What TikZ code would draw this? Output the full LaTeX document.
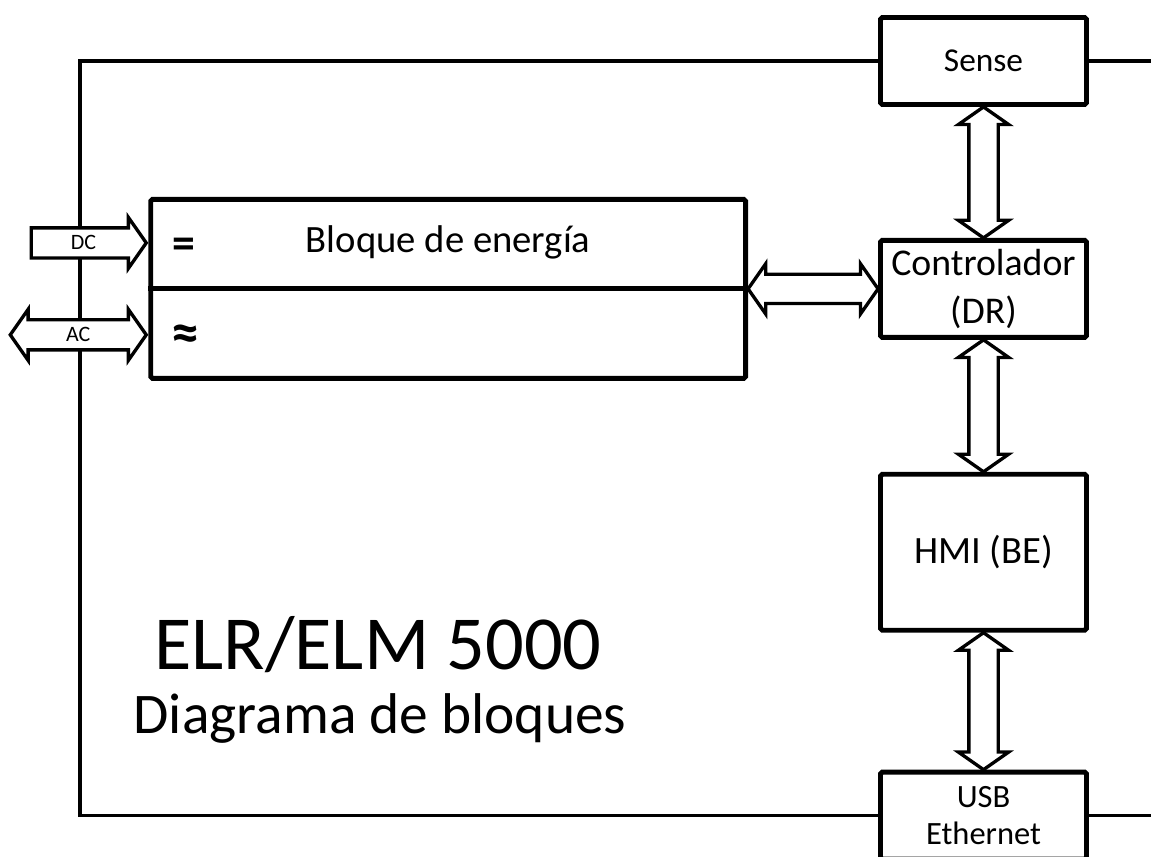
\documentclass[tikz,border=0pt]{standalone}
\usepackage{fontspec}
\setmainfont{Carlito}
\usetikzlibrary{arrows.meta,positioning,calc,shapes.arrows}
\tikzset{
  blockbox/.style={draw, line width=2.8pt, rounded corners=1pt, fill=white,
                   inner sep=0pt, align=center, minimum width=4.12cm},
  bigbox/.style={draw, line width=2.8pt, rounded corners=1pt, fill=white,
                 inner sep=0pt, minimum width=11.9cm, minimum height=3.58cm},
  frameline/.style={line width=2pt},
  fatlink/.style={double arrow, draw, fill=white, line width=1.9pt,
                  inner xsep=0pt, inner ysep=7.4pt,
                  minimum width=0.96cm, double arrow head extend=0.21cm,
                  double arrow tip angle=110},
  fatin/.style={single arrow, draw, fill=white, line width=1.9pt,
                inner xsep=0pt, inner ysep=3.9pt, text height=7.4pt, text depth=0pt,
                minimum width=0.96cm, single arrow head extend=0.21cm,
                single arrow tip angle=110, font=\fontsize{12.5}{13}\selectfont},
  fatlabel/.style={inner ysep=3.9pt, text height=7.4pt, text depth=0pt,
                   font=\fontsize{12.5}{13}\selectfont}}

\begin{document}
\begin{tikzpicture}[x=0.02cm, y=-0.02cm]
  \useasboundingbox (0,0) rectangle (1151,857);
  \clip (0,0) rectangle (1151,857);
  \coordinate (fx) at (80,0);
  \coordinate (rx) at (1151,0);

  % right column
  \node[blockbox, minimum height=1.74cm, font=\fontsize{19}{22}\selectfont] (sense) at (983.5,61) {Sense};
  \node[blockbox, minimum height=1.94cm, below=2.62cm of sense,
        font=\fontsize{21.5}{27}\selectfont] (ctrl) {Controlador\\(DR)};
  \node[blockbox, minimum height=3.12cm, below=2.64cm of ctrl,
        font=\fontsize{22}{26}\selectfont] (hmi) {HMI (BE)};
  \node[blockbox, minimum height=1.74cm, below=2.74cm of hmi,
        font=\fontsize{18.5}{21}\selectfont] (usb) {USB\\Ethernet};

  % power block
  \node[bigbox, left=2.6cm of ctrl] (bloque) {};
  \draw[line width=2.8pt] (bloque.west) -- (bloque.east);
  \node[font=\fontsize{22}{26}\selectfont] (bloquetxt) at ($(bloque.north)!0.5!(bloque.center)$) {Bloque de energía};
  \coordinate (dcin) at ($(bloque.west)!0.5!(bloque.north west)$);
  \coordinate (acin) at ($(bloque.west)!0.5!(bloque.south west)$);
  \node[right=0.36cm of dcin, yshift=-3pt, font=\fontsize{26}{30}\selectfont\bfseries] (eqsym) {=};
  \node[right=0.34cm of acin, yshift=-2pt, font=\fontsize{32}{36}\selectfont\bfseries] (apsym) {≈};

  % frame
  \draw[frameline] (sense.west) -- (sense.west -| fx) -- (usb.west -| fx) -- (usb.west);
  \draw[frameline] (sense.east) -- (sense.east -| rx);
  \draw[frameline] (usb.east) -- (usb.east -| rx);

  % links
  \node[fatin, minimum height=2.3cm, left=0pt of dcin] (dc) {DC};
  \node[fatlink, fatlabel, minimum height=2.72cm, left=0pt of acin] (ac) {AC};
  \node[fatlink, minimum height=2.6cm] (bl2ctrl) at ($(bloque.east)!0.5!(ctrl.west)$) {};
  \node[fatlink, rotate=90, minimum height=2.62cm] (se2ctrl) at ($(sense.south)!0.5!(ctrl.north)$) {};
  \node[fatlink, rotate=90, minimum height=2.64cm] (ctrl2hmi) at ($(ctrl.south)!0.5!(hmi.north)$) {};
  \node[fatlink, rotate=90, minimum height=2.74cm] (hmi2usb) at ($(hmi.south)!0.5!(usb.north)$) {};

  % title
  \node[font=\fontsize{43.5}{50}\selectfont] (title) at (378,645) {ELR/ELM 5000};
  \node[font=\fontsize{32.7}{38}\selectfont] (subtitle) at (380,718) {Diagrama de bloques};
\end{tikzpicture}
\end{document}
